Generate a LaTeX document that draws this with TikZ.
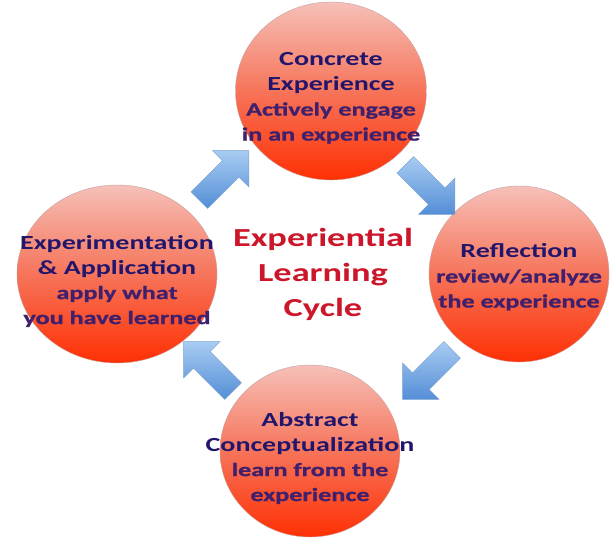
\documentclass[tikz,border=0pt]{standalone}
\usepackage{fontspec}
\setmainfont{Carlito}[FakeStretch=1.4]
\newfontfamily\semifont{Carlito}[FakeStretch=1.4, FakeBold=1.2]
\usetikzlibrary{calc}
\usetikzlibrary{shapes.geometric,shapes.arrows}

\definecolor{cycleRed}{RGB}{204,22,42}
\definecolor{cycleInk}{RGB}{34,22,108}
\definecolor{cycleSub}{RGB}{64,32,108}
\definecolor{ballTop}{RGB}{246,192,184}
\definecolor{ballMid}{RGB}{246,116,90}
\definecolor{ballBottom}{RGB}{255,48,4}
\definecolor{ballEdge}{RGB}{196,160,160}
\definecolor{arrowLight}{RGB}{168,204,242}
\definecolor{arrowDark}{RGB}{84,142,214}
\definecolor{arrowEdge}{RGB}{120,160,208}

\newcommand{\sublines}[1]{{\semifont\color{cycleSub}\fontsize{18.7}{25}\selectfont #1}}

\tikzset{
	bubble/.style={ellipse, draw=ballEdge, thin, top color=ballTop, bottom color=ballBottom, middle color=ballMid, minimum width=190pt, minimum height=178pt, inner sep=0pt},
	bubbletext/.style={text=cycleInk, align=center, font=\bfseries\fontsize{20}{25}\selectfont},
	turnarrow/.style={single arrow, draw=arrowEdge, thin, top color=arrowLight, bottom color=arrowDark, single arrow tip angle=90, single arrow head extend=14pt, inner xsep=0pt, inner ysep=11.5pt, minimum height=70pt}
}

\begin{document}
\begin{tikzpicture}[x=1pt,y=-1pt]

	\useasboundingbox (0,0) rectangle (611,545);
	\fill[white] (0,0) rectangle (611,545);

	%Circles
	\node[bubble, minimum width=191pt] (concrete) at (331,91) {};
	\node[bubble, minimum width=200pt] (experiment) at (117,274) {};
	\node[bubble, minimum width=180pt, minimum height=176pt] (reflect) at (519,274) {};
	\node[bubble, minimum width=180pt, minimum height=172pt] (abstract) at (310,451) {};

	%Circle texts
	\node[bubbletext] (concretetxt) at ([yshift=-7pt]concrete.center) {Concrete\\Experience\\\sublines{Actively engage}\\\sublines{in an experience}};
	\node[bubbletext] (experimenttxt) at ([yshift=-7pt]experiment.center) {Experimentation\\\& Application\\\sublines{apply what}\\\sublines{you have learned}};
	\node[bubbletext] (reflecttxt) at ([yshift=-3pt]reflect.center) {Reflection\\\sublines{review/analyze}\\\sublines{the experience}};
	\node[bubbletext] (abstracttxt) at ([yshift=-7pt]abstract.center) {Abstract\\Conceptualization\\\sublines{learn from the}\\\sublines{experience}};

	%Title
	\node[text=cycleRed, align=center, font=\bfseries\fontsize{26}{35}\selectfont] (title) at (323,274) {Experiential\\Learning\\Cycle};

	%Arrows
	\node[turnarrow, rotate=45] (arrowA) at ($(experiment)!0.5!(concrete)+(-4,-3)$) {};
	\node[turnarrow, rotate=-45] (arrowB) at ($(concrete)!0.5!(reflect)+(1,3)$) {};
	\node[turnarrow, rotate=-135] (arrowC) at ($(reflect)!0.5!(abstract)+(17,8)$) {};
	\node[turnarrow, rotate=135] (arrowD) at ($(abstract)!0.5!(experiment)+(-1,8)$) {};

\end{tikzpicture}
\end{document}
